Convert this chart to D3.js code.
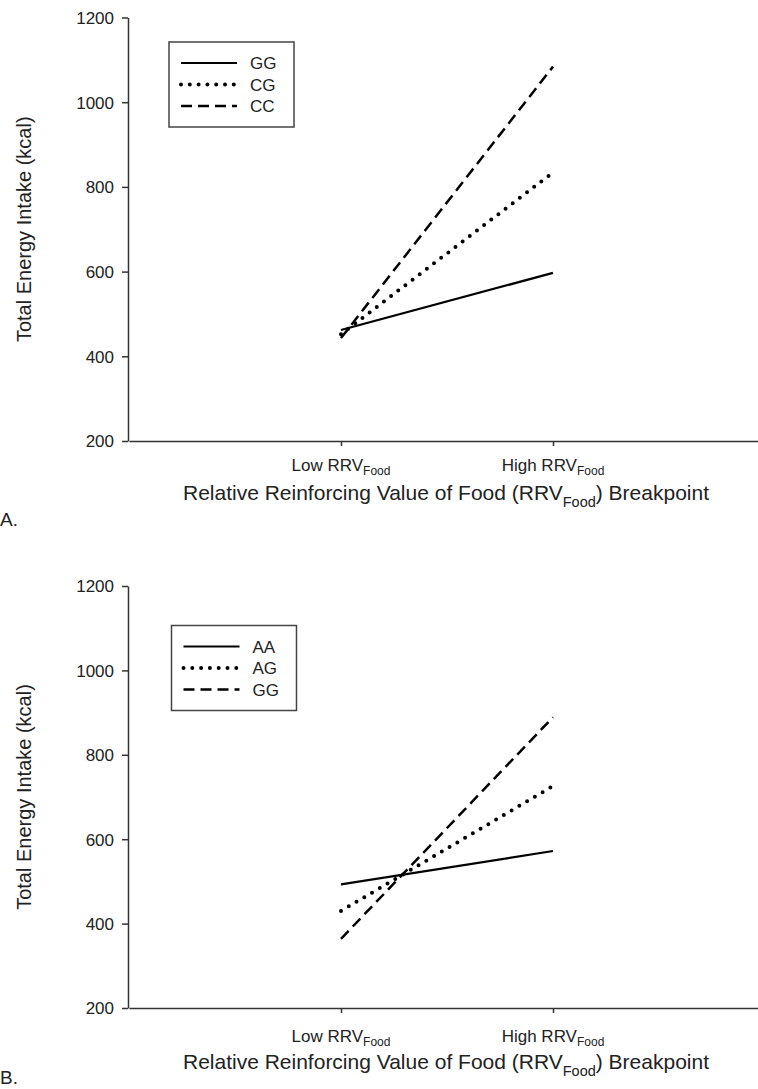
<!DOCTYPE html>
<html>
<head>
<meta charset="utf-8">
<script src="https://cdn.jsdelivr.net/npm/d3@7"></script>
<style>
  body { margin: 0; background: #fff; }
  text { font-family: "Liberation Sans", Arial, sans-serif; fill: #222; }
</style>
</head>
<body>
<script>
// data
var levels = ["Low", "High"];
var seriesA = ["GG", "CG", "CC"];
var valuesA = [[462, 597], [452, 834], [443, 1084]];
var seriesB = ["AA", "AG", "GG"];
var valuesB = [[493, 572], [430, 726], [364, 889]];
var yTicks = [200, 400, 600, 800, 1000, 1200];
var styles = [
    {dash: null, width: 2.2, cap: "butt"},
    {dash: "0,9", width: 4, cap: "round"},
    {dash: "11,6", width: 2.5, cap: "butt"}
];

var svg = d3.select("body")
  .append("svg")
  .attr("width", 758)
  .attr("height", 1089);

var x = d3.scaleLinear()
    .domain([0, 3])
    .range([129, 765]);

function drawPanel(p) {
    var top = p.top, bottom = p.bottom;
    var y = d3.scaleLinear()
        .domain([200, 1200])
        .range([bottom, top]);

    var g = svg.append("g");

    // y axis
    var yAxis = g.append("g")
        .attr("transform", "translate(128,0)")
        .call(d3.axisLeft(y).tickValues(yTicks).tickSize(6).tickSizeOuter(0).tickFormat(d3.format("d")));
    yAxis.select(".domain").attr("stroke", "#333").attr("stroke-width", 1.5);
    yAxis.selectAll(".tick line").attr("stroke", "#333").attr("stroke-width", 1.5);
    yAxis.selectAll(".tick text")
        .attr("x", -14)
        .attr("dy", "0.35em")
        .style("font-size", "17px")
        .style("font-family", "'Liberation Sans', Arial, sans-serif")
        .attr("fill", "#222");

    // x axis
    var xAxis = g.append("g")
        .attr("transform", "translate(0," + bottom + ")")
        .call(d3.axisBottom(x).tickValues([1, 2]).tickSize(5).tickSizeOuter(0).tickFormat(""));
    xAxis.select(".domain").attr("stroke", "#333").attr("stroke-width", 1.5);
    xAxis.selectAll(".tick line").attr("stroke", "#333").attr("stroke-width", 1.5);

    // x tick labels with subscript
    levels.forEach(function(lv, i) {
        var t = g.append("text")
            .attr("x", x(i + 1))
            .attr("y", bottom + p.tickGap)
            .attr("text-anchor", "middle")
            .style("font-size", "17px");
        t.append("tspan").text(lv + " RRV");
        t.append("tspan").text("Food")
            .attr("dy", 4)
            .style("font-size", "12px");
    });

    // x axis title
    var title = g.append("text")
        .attr("x", 446)
        .attr("y", bottom + p.titleGap)
        .attr("text-anchor", "middle")
        .style("font-size", "21px");
    title.append("tspan").text("Relative Reinforcing Value of Food (RRV");
    title.append("tspan").text("Food").attr("dy", 7).style("font-size", "14.5px");
    title.append("tspan").text(") Breakpoint").attr("dy", -7);

    // y axis title
    g.append("text")
        .attr("transform", "translate(31," + ((top + bottom) / 2) + ") rotate(-90)")
        .attr("text-anchor", "middle")
        .style("font-size", "20px")
        .text("Total Energy Intake (kcal)");

    // panel letter
    g.append("text")
        .attr("x", 0)
        .attr("y", p.letterY)
        .style("font-size", "19px")
        .text(p.letter);

    // lines
    var line = d3.line()
        .x(function(d, i) { return x(i + 1); })
        .y(function(d) { return y(d); });

    g.selectAll(".series")
        .data(p.values)
        .enter()
        .append("path")
        .attr("d", function(d) { return line(d); })
        .attr("fill", "none")
        .attr("stroke", "#000")
        .attr("stroke-width", function(d, i) { return styles[i].width; })
        .attr("stroke-dasharray", function(d, i) { return styles[i].dash; })
        .attr("stroke-linecap", function(d, i) { return styles[i].cap; });

    // legend
    var lx = p.legX, ly = p.legY;
    var legend = g.append("g");
    legend.append("rect")
        .attr("x", lx)
        .attr("y", ly)
        .attr("width", 125)
        .attr("height", 85)
        .attr("fill", "#fff")
        .attr("stroke", "#444")
        .attr("stroke-width", 1.5);

    p.names.forEach(function(n, i) {
        var yy = ly + 21 + i * 21.5;
        legend.append("line")
            .attr("x1", lx + 12)
            .attr("x2", lx + 68)
            .attr("y1", yy)
            .attr("y2", yy)
            .attr("stroke", "#000")
            .attr("stroke-width", styles[i].width)
            .attr("stroke-dasharray", styles[i].dash == "0,9" ? "0,8.8" : styles[i].dash)
            .attr("stroke-linecap", styles[i].cap);
        legend.append("text")
            .attr("x", lx + 81)
            .attr("y", yy + 6)
            .style("font-size", "17px")
            .text(n);
    });
}

drawPanel({top: 17.5, bottom: 441, names: seriesA, values: valuesA, letter: "A.", letterY: 526,
    tickGap: 30, titleGap: 59, legX: 169, legY: 42});
drawPanel({top: 586, bottom: 1008, names: seriesB, values: valuesB, letter: "B.", letterY: 1084,
    tickGap: 34, titleGap: 61, legX: 171.5, legY: 625.5});
</script>
</body>
</html>
